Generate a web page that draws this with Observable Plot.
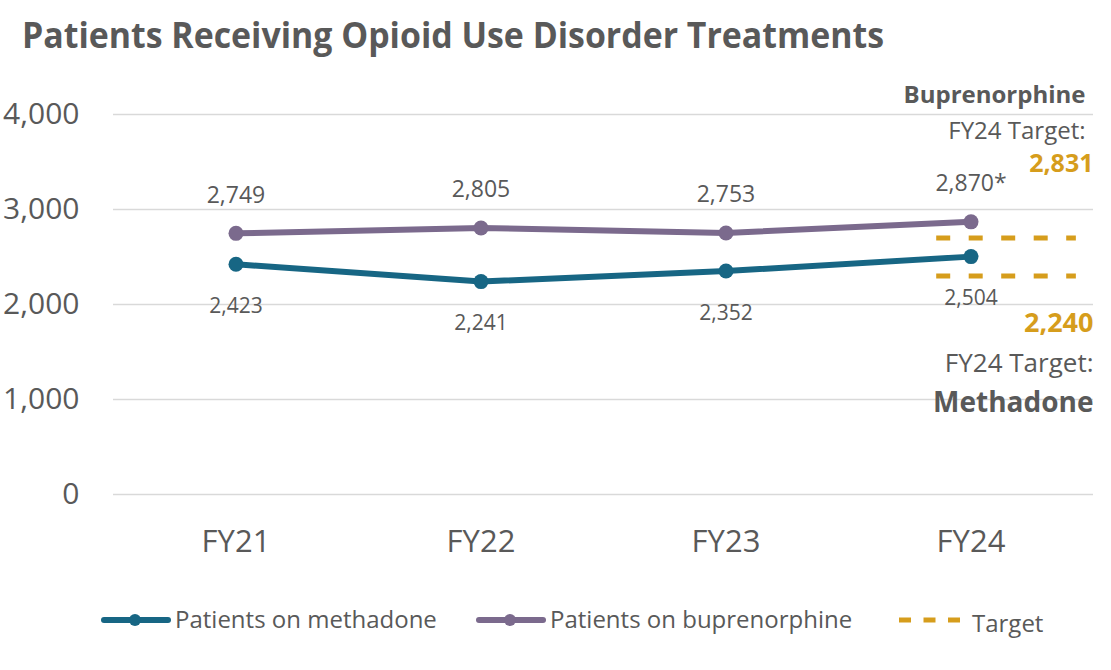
<!DOCTYPE html>
<html><head><meta charset="utf-8">
<script src="https://cdn.jsdelivr.net/npm/d3@7"></script>
<script src="https://cdn.jsdelivr.net/npm/@observablehq/plot@0.6"></script>
<style>
body{margin:0;background:#fff;font-family:"Open Sans",sans-serif;color:#595959;}
#wrap{position:relative;width:1111px;height:670px;overflow:hidden;background:#fff}
#title{position:absolute;left:22px;top:12px;font-weight:700;font-size:35px;line-height:46px;white-space:nowrap;transform-origin:left top;}
#chart{position:absolute;left:0;top:70px}
#chart svg{overflow:visible}
.lg{position:absolute;font-size:24px;line-height:32px;white-space:nowrap;color:#595959}
.sw{position:absolute}
</style></head>
<body><div id="wrap">
<div id="title">Patients Receiving Opioid Use Disorder Treatments</div>
<div id="chart"></div>
<div id="legend"></div>
</div>
<script>
const years = ["FY21", "FY22", "FY23", "FY24"];
const methadone = [2423, 2241, 2352, 2504];
const buprenorphine = [2749, 2805, 2753, 2870];
const methadoneLabels = ["2,423", "2,241", "2,352", "2,504"];
const buprenorphineLabels = ["2,749", "2,805", "2,753", "2,870*"];
const targetLevels = [2700, 2300];      // dashed target lines as drawn
const targetSpan = [2.86, 3.43];        // extent in year-index units
const yTicks = [0, 1000, 2000, 3000, 4000];
const seriesNames = ["Patients on methadone", "Patients on buprenorphine", "Target"];
const colors = {methadone: "#176684", buprenorphine: "#7B6A8D", target: "#D69D1C", text: "#595959", grid: "#D9D9D9"};
const annotations = [
  {text: "Buprenorphine", y: 4200, size: 24, bold: true, gold: false, xoff: -8},
  {text: "FY24 Target:", y: 3821, size: 24, bold: false, gold: false, xoff: -8},
  {text: "2,831", y: 3484, size: 25, bold: true, gold: true, xoff: 0},
  {text: "2,240", y: 1800, size: 27, bold: true, gold: true, xoff: 0},
  {text: "FY24 Target:", y: 1379, size: 26, bold: false, gold: false, xoff: 0},
  {text: "Methadone", y: 968, size: 28, bold: true, gold: false, xoff: 0}
];

const meth = years.map((d, i) => ({i, v: methadone[i], label: methadoneLabels[i]}));
const bup = years.map((d, i) => ({i, v: buprenorphine[i], label: buprenorphineLabels[i]}));
const targets = targetLevels.map(v => ({y: v, x1: targetSpan[0], x2: targetSpan[1]}));

const annMarks = annotations.map(a => Plot.text([a], {
  x: () => 3.5, y: "y", text: "text", textAnchor: "end", lineAnchor: "middle", dx: a.xoff,
  fontSize: a.size, fontWeight: a.bold ? 700 : 400, fill: a.gold ? colors.target : colors.text
}));

const chart = Plot.plot({
  width: 1111, height: 520,
  marginTop: 44, marginBottom: 96, marginLeft: 113, marginRight: 18,
  style: {fontFamily: "Open Sans", color: colors.text, background: "transparent", overflow: "visible"},
  x: {type: "linear", domain: [-0.5, 3.5]},
  y: {domain: [0, 4000]},
  marks: [
    Plot.gridY(yTicks, {stroke: colors.grid, strokeOpacity: 1, strokeWidth: 1.5}),
    Plot.axisY(yTicks, {tickSize: 0, tickPadding: 34, tickFormat: d3.format(","), fontSize: 30, fill: colors.text, label: null}),
    Plot.axisX([0, 1, 2, 3], {tickSize: 0, tickPadding: 35, tickFormat: i => years[i], fontSize: 31, fill: colors.text, label: null}),
    Plot.ruleY(targets, {y: "y", x1: "x1", x2: "x2", stroke: colors.target, strokeWidth: 5, strokeDasharray: "14,18.5"}),
    Plot.line(bup, {x: "i", y: "v", stroke: colors.buprenorphine, strokeWidth: 6}),
    Plot.dot(bup, {x: "i", y: "v", r: 7.5, fill: colors.buprenorphine}),
    Plot.line(meth, {x: "i", y: "v", stroke: colors.methadone, strokeWidth: 6}),
    Plot.dot(meth, {x: "i", y: "v", r: 7.5, fill: colors.methadone}),
    Plot.text(bup, {x: "i", y: "v", text: "label", dy: -38, fontSize: 23, fill: colors.text, lineAnchor: "middle"}),
    Plot.text(meth, {x: "i", y: "v", text: "label", dy: 42, fontSize: 21, fill: colors.text, lineAnchor: "middle"}),
    ...annMarks
  ]
});
document.getElementById("chart").appendChild(chart);

// title fit
const t = document.getElementById("title");
const tw = t.getBoundingClientRect().width;
t.style.transform = `scaleX(${862 / tw})`;

// legend
const lg = document.getElementById("legend");
const items = [
  {name: seriesNames[0], color: colors.methadone, type: "line", sx: 99, tx: 175, cy: 620},
  {name: seriesNames[1], color: colors.buprenorphine, type: "line", sx: 474, tx: 550, cy: 620},
  {name: seriesNames[2], color: colors.target, type: "dash", sx: 897, tx: 972, cy: 624}
];
for (const it of items) {
  const svg = d3.create("svg").attr("class", "sw").attr("width", 76).attr("height", 20)
    .style("left", it.sx + "px").style("top", (620 - 10) + "px");
  if (it.type === "line") {
    svg.append("line").attr("x1", 5).attr("x2", 69).attr("y1", 10).attr("y2", 10)
      .attr("stroke", it.color).attr("stroke-width", 6).attr("stroke-linecap", "round");
    svg.append("circle").attr("cx", 36).attr("cy", 10).attr("r", 6).attr("fill", it.color);
  } else {
    svg.append("line").attr("x1", 2).attr("x2", 63).attr("y1", 10).attr("y2", 10)
      .attr("stroke", it.color).attr("stroke-width", 5).attr("stroke-dasharray", "12,12.5");
  }
  lg.appendChild(svg.node());
  const div = document.createElement("div");
  div.className = "lg"; div.textContent = it.name;
  div.style.left = it.tx + "px"; div.style.top = (it.cy - 17) + "px";
  lg.appendChild(div);
}
</script>
</body></html>
